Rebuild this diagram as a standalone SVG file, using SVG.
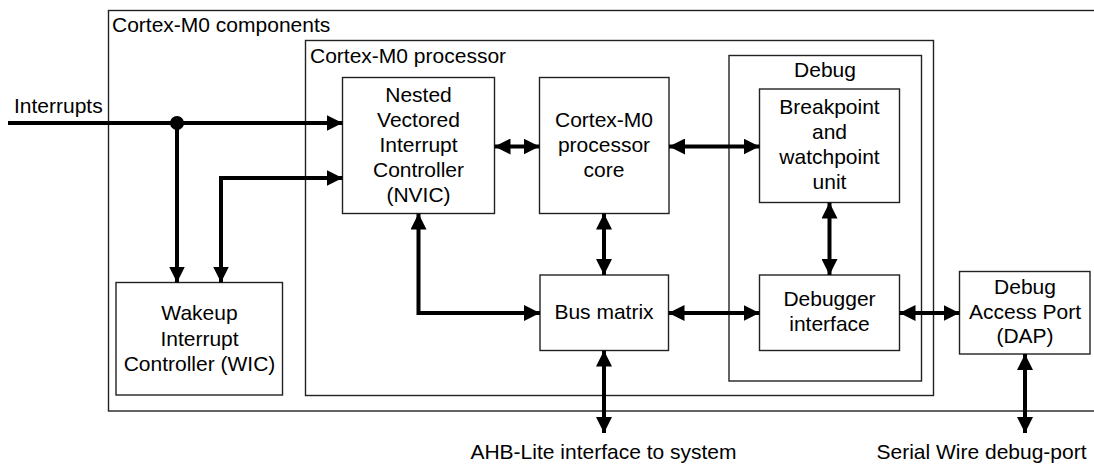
<svg xmlns="http://www.w3.org/2000/svg" width="1094" height="464" viewBox="0 0 1094 464">
<style>
.box{fill:#fff;stroke:#222;stroke-width:1.4}
.grp{fill:none;stroke:#222;stroke-width:1.4}
text{font-family:"Liberation Sans",Arial,sans-serif;font-size:21px;fill:#000}
.c{text-anchor:middle}
.w{fill:none;stroke:#000;stroke-width:4}
</style>
<defs>
<marker id="ah" viewBox="0 0 16 16" refX="16" refY="8" markerWidth="16" markerHeight="16" markerUnits="userSpaceOnUse" orient="auto-start-reverse">
<path d="M0,0 L16,8 L0,16 Z" fill="#000"/>
</marker>
</defs>
<rect width="1094" height="464" fill="#fff"/>
<g id="components">
<rect class="grp" x="108.5" y="10.5" width="1000" height="400.5"/>
<text x="112" y="32">Cortex-M0 components</text>
</g>
<g id="processor">
<rect class="grp" x="305.5" y="40.5" width="628" height="355"/>
<text x="310" y="63">Cortex-M0 processor</text>
</g>
<g id="debug">
<rect class="grp" x="729" y="55.5" width="192.5" height="325.5"/>
<text class="c" x="825" y="77">Debug</text>
</g>
<g id="nvic">
<rect class="box" x="342.5" y="77.5" width="152" height="136"/>
<text class="c" x="418.5" y="101.5">Nested</text>
<text class="c" x="418.5" y="126.5">Vectored</text>
<text class="c" x="418.5" y="151.5">Interrupt</text>
<text class="c" x="418.5" y="176.5">Controller</text>
<text class="c" x="418.5" y="201.5">(NVIC)</text>
</g>
<g id="core">
<rect class="box" x="539.5" y="77.5" width="129.5" height="136"/>
<text class="c" x="604" y="127">Cortex-M0</text>
<text class="c" x="604" y="152">processor</text>
<text class="c" x="604" y="177">core</text>
</g>
<g id="bwu">
<rect class="box" x="759.5" y="89" width="140" height="113.5"/>
<text class="c" x="829.5" y="114">Breakpoint</text>
<text class="c" x="829.5" y="139">and</text>
<text class="c" x="829.5" y="163.5">watchpoint</text>
<text class="c" x="829.5" y="188.5">unit</text>
</g>
<g id="busmatrix">
<rect class="box" x="540" y="275" width="128.5" height="75.5"/>
<text class="c" x="604" y="319">Bus matrix</text>
</g>
<g id="dbgif">
<rect class="box" x="759.5" y="275" width="140" height="75.5"/>
<text class="c" x="829.5" y="306">Debugger</text>
<text class="c" x="829.5" y="331">interface</text>
</g>
<g id="dap">
<rect class="box" x="959.5" y="271.5" width="130.5" height="82.5"/>
<text class="c" x="1025" y="294">Debug</text>
<text class="c" x="1025" y="319">Access Port</text>
<text class="c" x="1025" y="343">(DAP)</text>
</g>
<g id="wic">
<rect class="box" x="116" y="282.5" width="166.5" height="112.5"/>
<text class="c" x="199.5" y="320">Wakeup</text>
<text class="c" x="199.5" y="345.5">Interrupt</text>
<text class="c" x="199.5" y="371">Controller (WIC)</text>
</g>
<g id="labels">
<text x="14" y="113">Interrupts</text>
<text class="c" x="603.5" y="459">AHB-Lite interface to system</text>
<text class="c" x="981.5" y="459">Serial Wire debug-port</text>
</g>
<g id="connectors">
<path class="w" d="M8,123 H342.5" marker-end="url(#ah)"/>
<circle cx="177" cy="123" r="7" fill="#000"/>
<path class="w" d="M177,123 V282.5" marker-end="url(#ah)"/>
<path class="w" d="M221,282.5 V178 H342.5" marker-start="url(#ah)" marker-end="url(#ah)"/>
<path class="w" d="M494.5,146.5 H539.5" marker-start="url(#ah)" marker-end="url(#ah)"/>
<path class="w" d="M669,146.5 H759.5" marker-start="url(#ah)" marker-end="url(#ah)"/>
<path class="w" d="M604,213.5 V275" marker-start="url(#ah)" marker-end="url(#ah)"/>
<path class="w" d="M418.5,213.5 V313 H540" marker-start="url(#ah)" marker-end="url(#ah)"/>
<path class="w" d="M668.5,313 H759.5" marker-start="url(#ah)" marker-end="url(#ah)"/>
<path class="w" d="M829.5,202.5 V275" marker-start="url(#ah)" marker-end="url(#ah)"/>
<path class="w" d="M899.5,313 H959.5" marker-start="url(#ah)" marker-end="url(#ah)"/>
<path class="w" d="M604,350.5 V433" marker-start="url(#ah)" marker-end="url(#ah)"/>
<path class="w" d="M1025,354 V433" marker-start="url(#ah)" marker-end="url(#ah)"/>
</g>
</svg>
